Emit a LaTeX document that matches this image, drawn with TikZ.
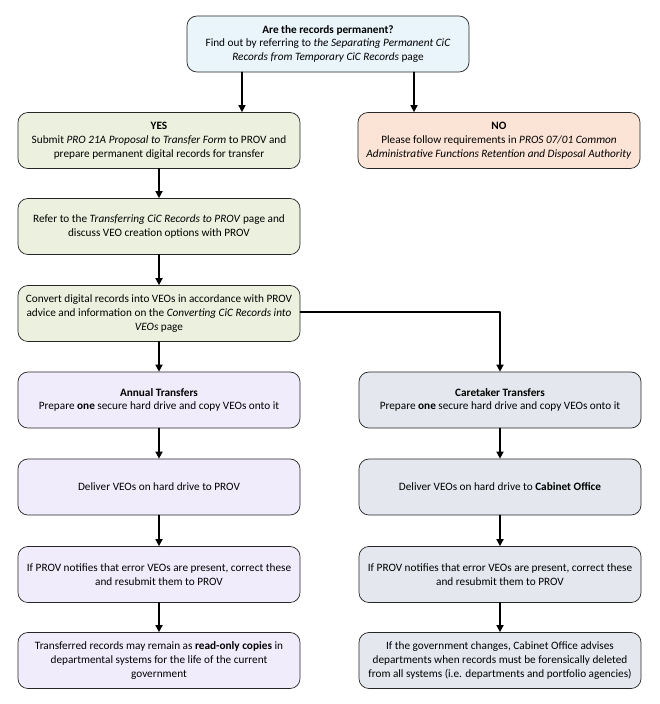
\documentclass[tikz,border=0pt]{standalone}
\usepackage{fontspec}
\setmainfont{Carlito}
\usetikzlibrary{arrows.meta}
\begin{document}
\begin{tikzpicture}[x=0.025cm, y=-0.025cm, line cap=round, line join=round,
    stepbox/.style={draw=black!85, line width=0.5pt, rounded corners=0.25cm,
      minimum width=7.05cm, minimum height=1.4cm, align=center, inner sep=2pt,
      font=\fontsize{8}{9.8}\selectfont},
    flow/.style={line width=1.1pt, -{Triangle[width=5pt,length=5pt]}}]
  \definecolor{askblue}{RGB}{233,244,251}
  \definecolor{yesgreen}{RGB}{235,241,222}
  \definecolor{nopeach}{RGB}{251,228,214}
  \definecolor{annuallilac}{RGB}{241,236,252}
  \definecolor{caregrey}{RGB}{228,231,238}
  \useasboundingbox (0,0) rectangle (659,704);
  % question and the two answers
  \node[stepbox, fill=askblue] (ask) at (328,44)
    {\textbf{Are the records permanent?}\\Find out by referring to \textit{the Separating Permanent CiC}\\\textit{Records from Temporary CiC Records} page};
  \node[stepbox, fill=yesgreen] (yes) at (159,140.5)
    {\textbf{YES}\\Submit \textit{PRO 21A Proposal to Transfer Form} to PROV and\\prepare permanent digital records for transfer};
  \node[stepbox, fill=nopeach] (no) at (499,140.5)
    {\textbf{NO}\\Please follow requirements in \textit{PROS 07/01 Common}\\\textit{Administrative Functions Retention and Disposal Authority}};
  \node[stepbox, fill=yesgreen] (refer) at (159,226.5)
    {Refer to the \textit{Transferring CiC Records to PROV} page and\\discuss VEO creation options with PROV};
  \node[stepbox, fill=yesgreen] (convert) at (159,313.5)
    {Convert digital records into VEOs in accordance with PROV\\advice and information on the \textit{Converting CiC Records into}\\\textit{VEOs} page};
  % annual transfers
  \node[stepbox, fill=annuallilac] (annual) at (159,400)
    {\textbf{Annual Transfers}\\Prepare \textbf{one} secure hard drive and copy VEOs onto it};
  \node[stepbox, fill=annuallilac] (annualdeliver) at (159,487)
    {Deliver VEOs on hard drive to PROV};
  \node[stepbox, fill=annuallilac] (annualerror) at (159,574.5)
    {If PROV notifies that error VEOs are present, correct these\\and resubmit them to PROV};
  \node[stepbox, fill=annuallilac] (annualcopies) at (159,660.5)
    {Transferred records may remain as \textbf{read-only copies} in\\departmental systems for the life of the current\\government};
  % caretaker transfers
  \node[stepbox, fill=caregrey] (caretaker) at (500,400)
    {\textbf{Caretaker Transfers}\\Prepare \textbf{one} secure hard drive and copy VEOs onto it};
  \node[stepbox, fill=caregrey] (caredeliver) at (500,487)
    {Deliver VEOs on hard drive to \textbf{Cabinet Office}};
  \node[stepbox, fill=caregrey] (careerror) at (500,574.5)
    {If PROV notifies that error VEOs are present, correct these\\and resubmit them to PROV};
  \node[stepbox, fill=caregrey] (caredelete) at (500,660.5)
    {If the government changes, Cabinet Office advises\\departments when records must be forensically deleted\\from all systems (i.e. departments and portfolio agencies)};
  % connectors
  \draw[flow] ([xshift=-2.15cm]ask.south) -- ([xshift=-2.15cm]ask.south |- yes.north);
  \draw[flow] ([xshift=2.15cm]ask.south) -- ([xshift=2.15cm]ask.south |- no.north);
  \foreach \from/\to in {yes/refer, refer/convert, convert/annual,
      annual/annualdeliver, annualdeliver/annualerror, annualerror/annualcopies,
      caretaker/caredeliver, caredeliver/careerror, careerror/caredelete}
    \draw[flow] (\from) -- (\to);
  \draw[flow] ([yshift=0.04cm]convert.east) -| (caretaker.north);
\end{tikzpicture}
\end{document}
